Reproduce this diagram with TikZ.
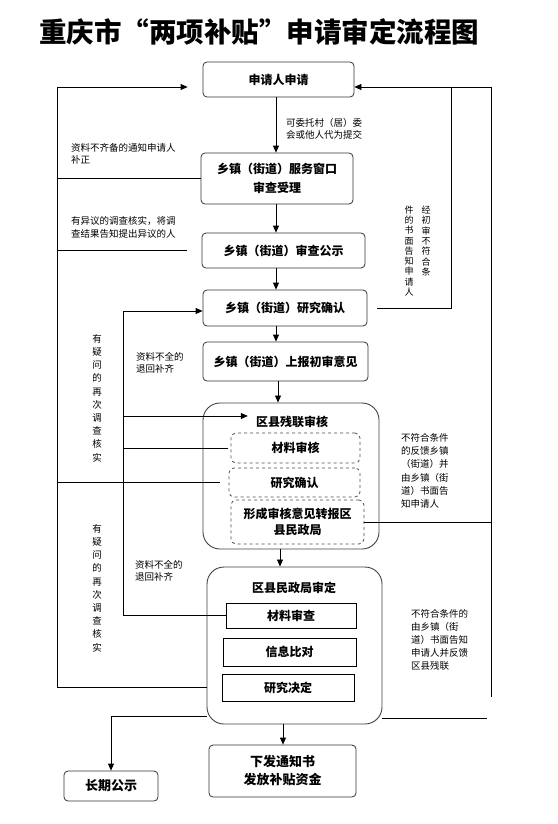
\documentclass[tikz,border=0pt]{standalone}
\usepackage{fontspec}
\setmainfont{Noto Sans CJK SC}
\usetikzlibrary{arrows.meta}

\begin{document}
\begin{tikzpicture}[
    x=1pt, y=-1pt,
    box/.style={draw=black!80, line width=0.8pt, rounded corners=4pt, align=center, inner sep=0pt, font=\bfseries\fontsize{12}{19}\selectfont},
    group/.style={draw=black!75, line width=0.9pt, rounded corners=17pt, inner sep=0pt},
    head/.style={inner sep=2pt, font=\bfseries\fontsize{12}{14}\selectfont},
    dbox/.style={draw=black!70, dashed, line width=0.8pt, rounded corners=5pt, align=center, inner sep=0pt, font=\bfseries\fontsize{12}{16}\selectfont},
    sbox/.style={draw=black, line width=0.8pt, align=center, inner sep=0pt, font=\bfseries\fontsize{12}{14}\selectfont},
    note/.style={anchor=west, align=left, inner sep=0pt, font=\fontsize{9.5}{12.5}\selectfont},
    vnote/.style={align=center, inner sep=0pt, font=\fontsize{9.5}{13.2}\selectfont},
    line/.style={draw=black, line width=0.8pt},
    arr/.style={line, -{Triangle[length=7pt,width=6pt]}}
]
\useasboundingbox (0,0) rectangle (557,824);

% title
\node[font=\bfseries\fontsize{27.5}{28}\selectfont] (title) at (259,32) {重庆市“两项补贴”申请审定流程图};

% township steps
\node[box, minimum width=151pt, minimum height=35pt] (apply) at (278.5,79.5) {申请人申请};
\node[box, minimum width=152pt, minimum height=51pt] (window) at (277,178.5) {乡镇（街道）服务窗口\\审查受理};
\node[box, minimum width=163pt, minimum height=35pt] (publicity) at (283.5,250.5) {乡镇（街道）审查公示};
\node[box, minimum width=164pt, minimum height=36pt] (confirm) at (285,308) {乡镇（街道）研究确认};
\node[box, minimum width=165pt, minimum height=39pt] (report) at (285.5,361.5) {乡镇（街道）上报初审意见};

% county disabled persons' federation
\node[group, minimum width=176pt, minimum height=146pt] (dpf) at (291,476) {};
\node[head] (dpfhead) at (292,422) {区县残联审核};
\node[dbox, minimum width=129pt, minimum height=30pt] (dpfA) at (295.5,448) {材料审核};
\node[dbox, minimum width=131pt, minimum height=29pt] (dpfB) at (294.5,482.5) {研究确认};
\node[dbox, minimum width=133pt, minimum height=44pt] (dpfC) at (297.5,522) {形成审核意见转报区\\县民政局};

% county civil affairs bureau
\node[group, minimum width=175pt, minimum height=157pt] (civil) at (294.5,645.5) {};
\node[head] (civilhead) at (294,588) {区县民政局审定};
\node[sbox, minimum width=130pt, minimum height=25pt] (civA) at (291,615.5) {材料审查};
\node[sbox, minimum width=133pt, minimum height=28pt] (civB) at (289.5,652) {信息比对};
\node[sbox, minimum width=132pt, minimum height=27pt] (civC) at (288,687.5) {研究决定};

% results
\node[box, minimum width=147pt, minimum height=52pt, font=\bfseries\fontsize{13}{18}\selectfont] (issue) at (282.5,771) {下发通知书\\发放补贴资金};
\node[box, minimum width=94pt, minimum height=30pt, font=\bfseries\fontsize{13}{15}\selectfont] (notice) at (111,786) {长期公示};

% main flow
\foreach \a/\b/\x in {apply/window/276, window/publicity/276, publicity/confirm/276, confirm/report/276, report/dpf/278, dpf/civil/280, civil/issue/283}
    \draw[arr] (\x,0 |- \a.south) -- (\x,0 |- \b.north);

% outer left rail
\coordinate (olTop) at (57,87);
\coordinate (olBot) at (57,687);
\draw[line] (olTop) -- (olBot);
\draw[arr, shorten >=15pt] (olTop) -- (olTop -| apply.west);
\draw[line] (window.west) -- (window.west -| olTop);
\draw[line, shorten <=15pt] (publicity.west) -- (publicity.west -| olTop);
\draw[line, shorten <=9pt] (dpfB.west) -- (dpfB.west -| olTop);
\draw[line] (civil.west |- olBot) -- (olBot);

% inner left rail
\coordinate (ilTop) at (123,311);
\coordinate (ilMid) at (123,416);
\draw[line] (ilTop) -- (ilTop |- civA.west) -- (civA.west);
\draw[arr] (ilTop) -- (ilTop -| confirm.west);
\draw[arr, shorten >=6pt] (ilMid) -- (ilMid -| dpfhead.west);
\draw[line, shorten <=3pt] (dpfA.west) -- (dpfA.west -| ilTop);

% to long-term publicity
\coordinate (pubTurn) at (109,716);
\draw[arr] (civil.west |- pubTurn) -| (notice.north);

% right rails
\coordinate (irTop) at (451,87);
\coordinate (orTop) at (491,87);
\coordinate (orBot) at (491,697);
\coordinate (civEnd) at (487,718);
\draw[arr] (orTop) -- (orTop -| apply.east);
\draw[line] (orTop) -- (orBot);
\draw[line, shorten >=10pt] (irTop) |- (confirm.east);
\draw[line] (dpfC.east) -- (dpfC.east -| orTop);
\draw[line] (civil.east |- civEnd) -- (civEnd);

% notes
\node[note] (n1) at (286,129) {可委托村（居）委\\会或他人代为提交};
\node[note] (n2) at (71,154) {资料不齐备的通知申请人\\补正};
\node[note] (n3) at (71,227.5) {有异议的调查核实，将调\\查结果告知提出异议的人};
\node[note] (n4) at (136,363) {资料不全的\\退回补齐};
\node[note] (n5) at (135,571) {资料不全的\\退回补齐};
\node[note, font=\fontsize{9.5}{13.3}\selectfont] (n6) at (401,471) {不符合条件\\的反馈乡镇\\（街道）并\\由乡镇（街\\道）书面告\\知申请人};
\node[note, font=\fontsize{9.5}{13}\selectfont] (n7) at (411,640) {不符合条件的\\由乡镇（街\\道）书面告知\\申请人并反馈\\区县残联};
\node[vnote] (q1) at (97,398) {有\\疑\\问\\的\\再\\次\\调\\查\\核\\实};
\node[vnote] (q2) at (97,588) {有\\疑\\问\\的\\再\\次\\调\\查\\核\\实};
\node[vnote, font=\fontsize{9}{10.3}\selectfont] (r1) at (426,241) {经\\初\\审\\不\\符\\合\\条};
\node[vnote, font=\fontsize{9}{10.25}\selectfont] (r2) at (409,251) {件\\的\\书\\面\\告\\知\\申\\请\\人};
\end{tikzpicture}
\end{document}
